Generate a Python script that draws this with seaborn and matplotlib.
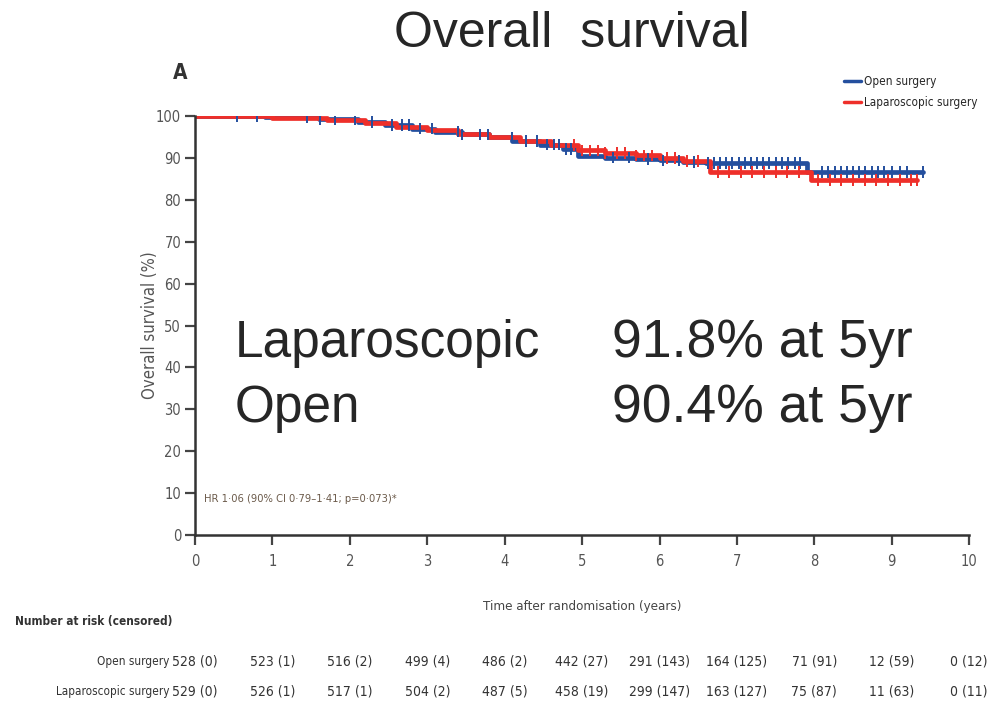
import numpy as np
import pandas as pd
import matplotlib
matplotlib.use("Agg")
import matplotlib.pyplot as plt
import seaborn as sns

# Kaplan-Meier step points (time in years, survival %)
open_time = [0, 0.9, 1.6, 2.1, 2.45, 2.8, 3.1, 3.45, 3.8, 4.1, 4.45, 4.75, 4.95, 5.3, 5.7, 6.0, 6.3, 6.6, 7.9, 9.4]
open_surv = [100, 99.7, 99.3, 98.6, 97.9, 97.0, 96.3, 95.6, 94.9, 94.0, 93.2, 92.2, 90.4, 90.1, 89.8, 89.4, 89.0, 88.8, 86.6, 86.6]

lap_time = [0, 1.0, 1.7, 2.2, 2.6, 3.0, 3.4, 3.8, 4.2, 4.6, 4.95, 5.3, 5.7, 6.0, 6.3, 6.65, 7.95, 9.33]
lap_surv = [100, 99.6, 99.1, 98.3, 97.4, 96.6, 95.8, 95.0, 94.0, 93.1, 91.8, 91.2, 90.6, 90.0, 89.2, 86.7, 84.7, 84.7]

# Censoring times
open_cens = [0.54, 0.8, 1.44, 1.62, 1.81, 2.07, 2.29, 2.55, 2.67, 2.76, 2.91, 3.06,
             3.40, 3.45, 3.68, 3.79, 4.09, 4.27, 4.42, 4.55, 4.64, 4.70, 4.79, 4.86,
             5.4, 5.6, 5.85, 6.05, 6.25, 6.45, 6.62, 6.7, 6.78, 6.86, 6.94, 7.02,
             7.1, 7.18, 7.26, 7.34, 7.42, 7.5, 7.58, 7.66, 7.75, 7.82, 8.1, 8.18,
             8.26, 8.34, 8.42, 8.5, 8.58, 8.66, 8.74, 8.82, 8.9, 9.0, 9.1, 9.2, 9.4]
lap_cens = [4.9, 5.0, 5.1, 5.2, 5.3, 5.45, 5.55, 5.7, 5.8, 5.9, 6.1, 6.2, 6.35,
            6.5, 6.75, 6.9, 7.05, 7.2, 7.35, 7.5, 7.65, 7.8, 8.05, 8.2, 8.35,
            8.5, 8.65, 8.8, 8.95, 9.1, 9.25, 9.33]

groups = ["Open surgery", "Laparoscopic surgery"]
colors = ["#244f9e", "#ee2f2a"]

# Number at risk (censored) table
risk_years = [0, 1, 2, 3, 4, 5, 6, 7, 8, 9, 10]
open_risk = ["528 (0)", "523 (1)", "516 (2)", "499 (4)", "486 (2)", "442 (27)",
             "291 (143)", "164 (125)", "71 (91)", "12 (59)", "0 (12)"]
lap_risk = ["529 (0)", "526 (1)", "517 (1)", "504 (2)", "487 (5)", "458 (19)",
            "299 (147)", "163 (127)", "75 (87)", "11 (63)", "0 (11)"]

x_ticks = list(range(0, 11))
y_ticks = list(range(0, 101, 10))

curves = pd.concat([
    pd.DataFrame({"time": open_time, "surv": open_surv, "group": groups[0]}),
    pd.DataFrame({"time": lap_time, "surv": lap_surv, "group": groups[1]}),
], ignore_index=True)


def step_value(times, survs, t):
    idx = np.searchsorted(np.asarray(times), t, side="right") - 1
    return np.asarray(survs)[idx]


cens = pd.concat([
    pd.DataFrame({"time": open_cens,
                  "surv": step_value(open_time, open_surv, open_cens),
                  "group": groups[0]}),
    pd.DataFrame({"time": lap_cens,
                  "surv": step_value(lap_time, lap_surv, lap_cens),
                  "group": groups[1]}),
], ignore_index=True)

sns.set_style("ticks")
plt.rcParams["font.family"] = ["DejaVu Sans"]
plt.rcParams["font.stretch"] = "condensed"
arial = ["Liberation Sans", "DejaVu Sans"]

fig = plt.figure(figsize=(9.9, 7.11), dpi=100)
ax = fig.add_axes([0.197, 0.2475, 0.782, 0.5893])

palette = dict(zip(groups, colors))
sns.lineplot(data=curves, x="time", y="surv", hue="group", palette=palette,
             drawstyle="steps-post", estimator=None, linewidth=3.4, ax=ax)
sns.scatterplot(data=cens, x="time", y="surv", hue="group", palette=palette,
                marker="|", s=70, linewidth=1.4, legend=False, ax=ax, zorder=4)

ax.set_xlim(0, 10)
ax.set_ylim(0, 100)
ax.set_xticks(x_ticks)
ax.set_yticks(y_ticks)
ax.tick_params(axis="both", direction="out", length=7, width=1.6,
               colors="#444444", labelsize=10.5, labelcolor="#555555")
ax.tick_params(axis="x", pad=7)
ax.tick_params(axis="y", pad=3)
for side in ("left", "bottom"):
    ax.spines[side].set_linewidth(1.8)
    ax.spines[side].set_color("#333333")
sns.despine(ax=ax)

ax.set_xlabel("Time after randomisation (years)", fontsize=9.5, color="#444444", labelpad=22)
ax.set_ylabel("Overall survival (%)", fontsize=12, color="#555555")
ax.yaxis.set_label_coords(-0.047, 0.5)

leg = ax.legend(loc="upper left", bbox_to_anchor=(0.853, 0.895),
                bbox_transform=fig.transFigure, frameon=False, borderpad=0,
                borderaxespad=0, fontsize=8.5, handlelength=1.4,
                handletextpad=0.25, labelspacing=0.7)
for line in leg.get_lines():
    line.set_linewidth(2.5)

ax.text(0.012, 0.085, "HR 1·06 (90% CI 0·79–1·41; p=0·073)*", transform=ax.transAxes,
        fontsize=8, color="#6b5a4a", va="center")

fig.text(0.175, 0.898, "A", fontsize=15, fontweight="bold", color="#333333",
         va="center", ha="left")
fig.text(0.578, 0.952, "Overall  survival", fontsize=36, ha="center", va="center",
         family=arial, stretch="normal")

big = dict(fontsize=37, va="center", family=arial, stretch="normal")
fig.text(0.237, 0.517, "Laparoscopic", **big)
fig.text(0.618, 0.517, "91.8% at 5yr", **{**big, "fontsize": 38.5})
fig.text(0.237, 0.426, "Open", **big)
fig.text(0.618, 0.426, "90.4% at 5yr", **{**big, "fontsize": 38.5})

# Number at risk table under the axis
fig.text(0.015, 0.126, "Number at risk (censored)", fontsize=8.5, fontweight="bold",
         color="#333333", va="center")
trans = matplotlib.transforms.blended_transform_factory(ax.transData, fig.transFigure)
for label, vals, yy in ((groups[0], open_risk, 0.069), (groups[1], lap_risk, 0.027)):
    fig.text(0.171, yy, label, fontsize=8.5, color="#333333", ha="right", va="center")
    for t, v in zip(risk_years, vals):
        ax.text(t, yy, v, transform=trans, fontsize=10, color="#333333",
                ha="center", va="center", clip_on=False)

fig.savefig("out.png", dpi=100)
